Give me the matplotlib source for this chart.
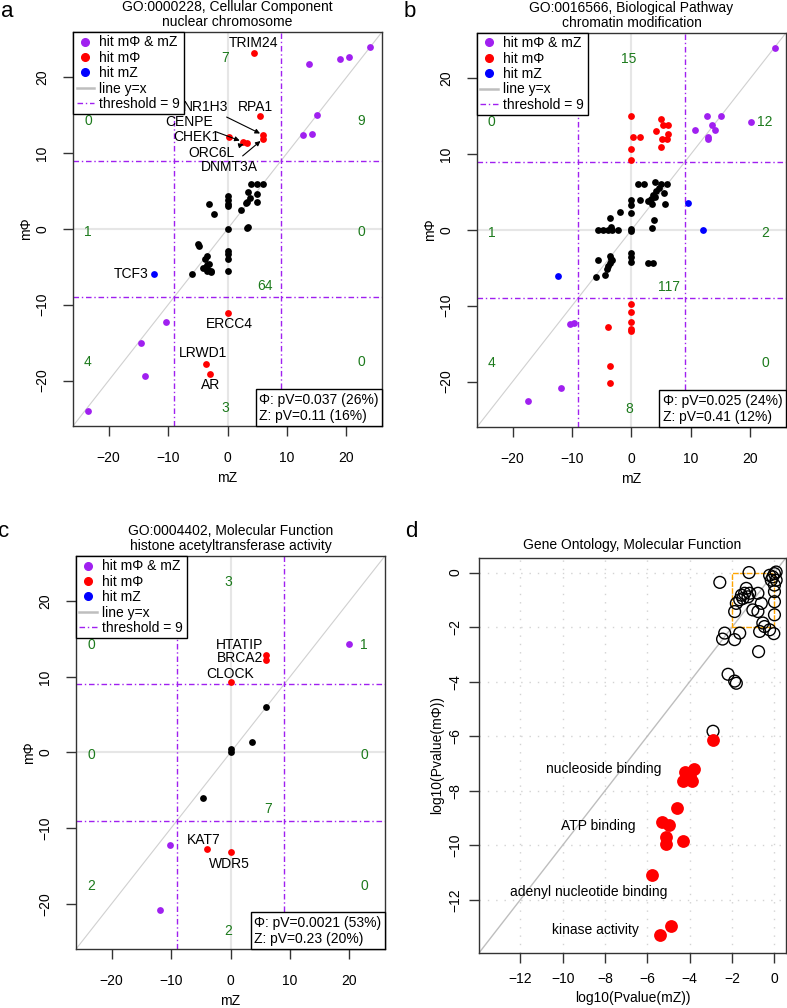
import matplotlib
matplotlib.use('Agg')
import matplotlib.pyplot as plt
from matplotlib.lines import Line2D
from matplotlib.patches import Rectangle
from matplotlib.offsetbox import AnchoredText

plt.rcParams['font.family'] = ['Liberation Sans', 'DejaVu Sans']
plt.rcParams['font.size'] = 10

# --- DATA ---
# panel a: GO:0000228 nuclear chromosome
a_both_mz = [23.9, 20.4, 19.0, 13.7, 15.0, 12.7, 14.2, -10.3, -14.6, -13.9, -23.4]
a_both_mphi = [24.0, 22.7, 22.4, 21.8, 15.0, 12.4, 12.5, -12.3, -15.0, -19.4, -24.0]
a_phi_genes = ['TRIM24', 'RPA1', 'NR1H3', 'DNMT3A', 'CHEK1', 'CENPE', 'ORC6L', 'ERCC4', 'LRWD1', 'AR']
a_phi_mz = [4.4, 5.5, 6.0, 6.0, 0.3, 2.6, 3.3, 0.0, -3.6, -3.0]
a_phi_mphi = [23.2, 14.9, 12.4, 11.9, 12.2, 11.5, 11.3, -11.1, -17.8, -19.1]
a_z_genes = ['TCF3']
a_z_mz = [-12.4]
a_z_mphi = [-6.0]
a_other_mz = [4.0, 5.0, 6.0, 3.5, 4.9, 3.7, 3.3, 3.1, 5.0, 2.3, 0.0, 0.0, 0.0, 0.0, -3.1, -2.2,
              0.0, 3.3, 3.5, -4.9, -4.8, 0.0, 0.0, 0.0, -3.5, -3.8, -4.1, -3.6, -3.3, -2.8,
              -3.1, -3.5, 0.0, -6.0, -3.4, -2.7]
a_other_mphi = [6.0, 6.0, 6.0, 4.9, 4.6, 4.1, 3.6, 3.4, 3.6, 2.5, 4.3, 3.8, 3.3, 3.0, 3.3, 2.0,
                0.0, 0.1, 0.3, -2.0, -2.2, -2.9, -3.3, -4.0, -3.6, -3.9, -5.1, -5.0, -5.4, -5.6,
                -4.6, -5.5, -5.6, -6.0, -4.8, -5.65]
a_counts = [7, 0, 9, 1, 0, 64, 4, 0, 3]
a_pvals = ['\u03a6: pV=0.037 (26%)', 'Z: pV=0.11 (16%)']

# panel b: GO:0016566 chromatin modification
b_both_mz = [24.2, 20.1, 12.7, 15.1, 10.7, 13.6, 14.1, 12.8, 12.8, -10.4, -9.7, -11.9, -17.5]
b_both_mphi = [24.0, 14.2, 15.0, 15.0, 13.2, 13.9, 13.2, 12.3, 12.0, -12.4, -12.3, -20.9, -22.6]
b_phi_mz = [0.0, 0.2, 1.5, 0.0, 0.0, 4.9, 5.3, 6.1, 4.1, 6.1, 5.1, 6.0, 4.9,
            0.0, 0.0, 0.0, 0.0, 0.0, -4.0, -3.6, -3.6]
b_phi_mphi = [15.0, 12.2, 12.3, 10.7, 9.2, 14.6, 13.9, 13.8, 13.0, 12.7, 12.0, 12.0, 11.0,
              -9.8, -10.8, -12.1, -13.1, -13.4, -12.8, -17.9, -20.2]
b_z_mz = [9.5, 12.0, -12.4]
b_z_mphi = [3.5, 0.0, -6.1]
b_other_mz = [1.1, 2.1, 3.9, 5.0, 6.0, 4.7, 4.2, 5.4, 3.7, 3.3, 2.8, 3.9, 3.5, 5.7, 1.4, 0.0,
              0.0, 0.0, -2.0, -3.6, 3.8, 3.5, -5.6, -4.8, -4.0, -3.2, -2.2, -3.4, 0.0, 0.0,
              0.0, 0.0, 0.0, 2.8, 3.6, -5.6, -3.6, -3.4, -3.6, -3.9, -4.2, -4.5, -5.9, -3.2]
b_other_mphi = [6.0, 6.0, 6.3, 6.0, 6.0, 5.5, 5.2, 4.9, 4.6, 4.1, 3.8, 4.3, 3.4, 3.4, 3.9, 3.9,
                3.3, 2.2, 2.4, 1.6, 1.3, 0.2, 0.0, 0.0, 0.0, 0.0, 0.0, 0.4, 0.1, -0.2,
                -3.1, -3.6, -4.2, -4.3, -4.3, -4.0, -3.4, -3.8, -4.3, -4.7, -5.1, -5.9, -6.2, -4.0]
b_counts = [15, 0, 12, 1, 2, 117, 4, 0, 8]
b_pvals = ['\u03a6: pV=0.025 (24%)', 'Z: pV=0.41 (12%)']

# panel c: GO:0004402 histone acetyltransferase activity
c_both_mz = [20.0, -10.2, -11.9]
c_both_mphi = [14.3, -12.3, -20.8]
c_phi_genes = ['HTATIP', 'BRCA2', 'CLOCK', 'KAT7', 'WDR5']
c_phi_mz = [6.0, 6.0, 0.0, -4.0, 0.0]
c_phi_mphi = [12.9, 12.2, 9.3, -12.8, -13.2]
c_other_mz = [6.0, 3.7, 0.0, 0.0, -4.7]
c_other_mphi = [6.0, 1.4, 0.4, 0.05, -6.0]
c_counts = [3, 0, 1, 0, 0, 7, 2, 0, 2]
c_pvals = ['\u03a6: pV=0.0021 (53%)', 'Z: pV=0.23 (20%)']

# panel d: log10 p-values per GO term
d_mz = [-2.58, -1.2, -0.23, -0.08, 0.0, 0.08, -0.15, 0.08, 0.0, 0.0, 0.0, -1.33, -1.17, -1.41,
        -1.56, -1.25, -1.49, -1.64, -1.8, -0.78, -0.62, -1.02, -0.78, -1.88, 0.0, -0.55, -0.47,
        -0.7, -0.03, -0.23, -2.35, -2.45, -1.88, -1.64, -0.75, -2.19, -1.88, -1.8, -2.9]
d_mphi = [-0.36, 0.0, -0.1, -0.16, -0.04, 0.02, -0.28, -0.28, -0.46, -0.7, -1.07, -0.58, -0.76,
          -0.76, -0.83, -0.89, -0.95, -1.0, -1.13, -0.76, -1.13, -1.37, -1.43, -1.43, -1.55,
          -1.85, -1.98, -2.16, -2.24, -2.1, -2.22, -2.44, -2.46, -2.22, -2.9, -3.73, -3.98,
          -4.06, -5.82]
d_hit_mz = [-2.9, -4.2, -3.8, -4.0, -4.3, -3.9, -4.6, -5.3, -5.0, -5.1, -5.1, -4.3, -5.76, -4.9, -5.4]
d_hit_mphi = [-6.14, -7.3, -7.2, -7.45, -7.65, -7.65, -8.65, -9.15, -9.27, -9.7, -9.95, -9.83,
              -11.1, -12.96, -13.3]
d_terms = ['nucleoside binding', 'ATP binding', 'adenyl nucleotide binding', 'kinase activity']

# --- STYLE / LAYOUT ---
PURPLE = '#A020F0'
GREEN = '#1C7A1C'
SPINE = '#333333'
FS = 10
# quadrant count positions (top, UL, UR, ML, MR, centre, LL, LR, bottom)
count_pos = [(-0.4, 22.5), (-23.5, 14.2), (22.5, 14.2), (-23.5, -0.4), (22.5, -0.4),
             (6.3, -7.5), (-23.5, -17.6), (22.5, -17.6), (-0.4, -23.6)]
# gene label offsets in points: (dx, dy, arrow)
a_offsets = [(0, 7.4, False), (-3.2, 6.8, False), (-41.5, 20.4, True), (-24, -20, True),
             (-23.6, 0, False), (-39, 14.5, True), (-25.6, -7.1, True), (1.2, -8.1, False),
             (-2.2, 8.1, False), (0.9, -8.3, False)]
a_z_offsets = [(-16.5, 0, False)]
c_offsets = [(-19, 7, False), (-19, 1.9, False), (-0.5, 6.2, False), (-2.1, 6.7, False),
             (-0.9, -8.6, False)]
d_term_pos = [(-8.06, -7.19), (-8.3, -9.3), (-8.77, -11.7), (-8.45, -13.1)]
legend_labels = ['hit m\u03a6 & mZ', 'hit m\u03a6', 'hit mZ', 'line y=x', 'threshold = 9']


def r_axes(ax, padx, pady):
    # base-R look: boxed axes, outward ticks, y labels parallel to axis
    for s in ax.spines.values():
        s.set_color(SPINE)
        s.set_linewidth(1)
    ax.tick_params(direction='out', length=7.5, width=1, color=SPINE, labelsize=FS)
    ax.tick_params(axis='x', pad=padx)
    ax.tick_params(axis='y', pad=pady)
    for t in ax.get_yticklabels():
        t.set_rotation(90)
        t.set_va('center')


def scatter_panel(ax, title, both, phi, z, other, counts, pvals, labels):
    lim = 26
    ax.set_xlim(-lim, lim)
    ax.set_ylim(-lim, lim)
    ax.axhline(0, color='#E6E6E6', lw=1.5, zorder=0)
    ax.axvline(0, color='#E6E6E6', lw=1.5, zorder=0)
    ax.plot([-lim, lim], [-lim, lim], color='#D0D0D0', lw=0.8, zorder=1)
    for v in (-9, 9):
        ax.axhline(v, color=PURPLE, lw=1, ls=(0, (4, 2, 1, 2)), zorder=1)
        ax.axvline(v, color=PURPLE, lw=1, ls=(0, (4, 2, 1, 2)), zorder=1)
    ax.scatter(other[0], other[1], s=24, c='black', lw=0, zorder=3)
    ax.scatter(both[0], both[1], s=24, c=PURPLE, lw=0, zorder=3)
    ax.scatter(phi[0], phi[1], s=24, c='red', lw=0, zorder=3)
    if z[0]:
        ax.scatter(z[0], z[1], s=24, c='blue', lw=0, zorder=3)

    for names, xs, ys, offs in labels:
        for g, x, y, (dx, dy, arr) in zip(names, xs, ys, offs):
            kw = {}
            if arr:
                kw['arrowprops'] = dict(arrowstyle='-|>', color='black', lw=0.8,
                                        mutation_scale=7, shrinkA=1, shrinkB=2.5)
            ax.annotate(g, xy=(x, y), xytext=(dx, dy), textcoords='offset points',
                        ha='center', va='center', fontsize=FS, zorder=4, **kw)

    for n, (px, py) in zip(counts, count_pos):
        ax.text(px, py, str(n), color=GREEN, ha='center', va='center', fontsize=FS, zorder=2)

    ax.set_xticks([-20, -10, 0, 10, 20])
    ax.set_yticks([-20, -10, 0, 10, 20])
    ax.set_xlabel('mZ', labelpad=4, fontsize=FS)
    ax.set_ylabel('m\u03a6', labelpad=2, fontsize=FS)
    ax.set_title(title, fontsize=FS, pad=4, linespacing=1.15)
    r_axes(ax, 10.5, 9.5)

    handles = [Line2D([], [], ls='none', marker='o', ms=5.5, mfc=PURPLE, mec=PURPLE),
               Line2D([], [], ls='none', marker='o', ms=5.5, mfc='red', mec='red'),
               Line2D([], [], ls='none', marker='o', ms=5.5, mfc='blue', mec='blue'),
               Line2D([], [], color='#BEBEBE', lw=1.8),
               Line2D([], [], color=PURPLE, lw=1, ls=(0, (4, 2, 1, 2)))]
    leg = ax.legend(handles, legend_labels, loc='upper left', borderaxespad=0,
                    fancybox=False, edgecolor='black', framealpha=1, handlelength=1.25,
                    handletextpad=0.4, labelspacing=0.1, borderpad=0.25, fontsize=FS)
    leg.get_frame().set_linewidth(1)
    leg.set_zorder(6)

    at = AnchoredText('\n'.join(pvals), loc='lower right', borderpad=0, pad=0.25,
                      prop=dict(size=FS, linespacing=1.15))
    at.patch.set_edgecolor('black')
    at.patch.set_linewidth(1)
    at.patch.set_boxstyle('square,pad=0')
    at.set_zorder(6)
    ax.add_artist(at)


fig = plt.figure(figsize=(7.87, 10.08), dpi=100)

ax_a = fig.add_axes([0.0928, 0.5774, 0.3926, 0.3909])
scatter_panel(ax_a, 'GO:0000228, Cellular Component\nnuclear chromosome',
              (a_both_mz, a_both_mphi), (a_phi_mz, a_phi_mphi), (a_z_mz, a_z_mphi),
              (a_other_mz, a_other_mphi), a_counts, a_pvals,
              [(a_phi_genes, a_phi_mz, a_phi_mphi, a_offsets),
               (a_z_genes, a_z_mz, a_z_mphi, a_z_offsets)])

ax_b = fig.add_axes([0.6061, 0.5764, 0.3926, 0.391])
scatter_panel(ax_b, 'GO:0016566, Biological Pathway\nchromatin modification',
              (b_both_mz, b_both_mphi), (b_phi_mz, b_phi_mphi), (b_z_mz, b_z_mphi),
              (b_other_mz, b_other_mphi), b_counts, b_pvals, [])

ax_c = fig.add_axes([0.0966, 0.0585, 0.3926, 0.39])
scatter_panel(ax_c, 'GO:0004402, Molecular Function\nhistone acetyltransferase activity',
              (c_both_mz, c_both_mphi), (c_phi_mz, c_phi_mphi), ([], []),
              (c_other_mz, c_other_mphi), c_counts, c_pvals,
              [(c_phi_genes, c_phi_mz, c_phi_mphi, c_offsets)])

# panel d
ax_d = fig.add_axes([0.6086, 0.0546, 0.39, 0.392])
lo, hi = -13.95, 0.54
ax_d.set_xlim(lo, hi)
ax_d.set_ylim(lo, hi)
grid_vals = [-12, -10, -8, -6, -4, -2, 0]
for v in grid_vals:
    ax_d.axvline(v, color='#D3D3D3', lw=1, ls=(0, (1, 5)), zorder=0)
    ax_d.axhline(v, color='#D3D3D3', lw=1, ls=(0, (1, 5)), zorder=0)
ax_d.plot([lo, hi], [lo, hi], color='#BEBEBE', lw=1, zorder=1)
ax_d.add_patch(Rectangle((-2, -2), 2, 2, fill=False, edgecolor='orange', lw=1,
                         ls=(0, (4, 1)), zorder=2))
ax_d.scatter(d_mz, d_mphi, s=72, facecolors='none', edgecolors='black', lw=1, zorder=3)
ax_d.scatter(d_hit_mz, d_hit_mphi, s=85, c='red', lw=0, zorder=4)
for term, (tx, ty) in zip(d_terms, d_term_pos):
    ax_d.text(tx, ty, term, ha='center', va='center', fontsize=FS, zorder=5)
ax_d.set_xticks(grid_vals)
ax_d.set_yticks(grid_vals)
ax_d.set_xlabel('log10(Pvalue(mZ))', labelpad=4, fontsize=FS)
ax_d.set_ylabel('log10(Pvalue(m\u03a6))', labelpad=3, fontsize=FS)
ax_d.set_title('Gene Ontology, Molecular Function', fontsize=FS, pad=6)
r_axes(ax_d, 6, 4.5)

# panel letters
for letter, (fx, fy) in zip('abcd', [(0.009, 0.989), (0.521, 0.989), (0.005, 0.473), (0.522, 0.473)]):
    fig.text(fx, fy, letter, fontsize=16, ha='center', va='center')

fig.savefig('out.png', dpi=100)
